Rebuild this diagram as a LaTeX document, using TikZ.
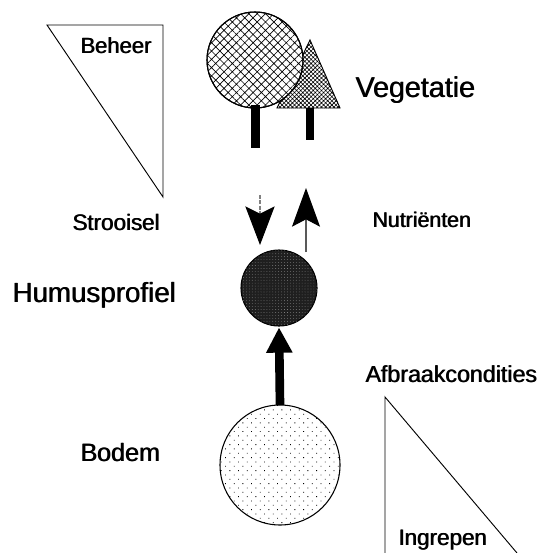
\documentclass[tikz,border=0pt]{standalone}
\usepackage{fontspec}
\newfontfamily\lab{Liberation Sans}
\newcommand\heavytext[1]{\rlap{#1}\kern0.55pt#1}
\usetikzlibrary{patterns.meta,arrows.meta}
\begin{document}
\begin{tikzpicture}[x=0.75pt,y=-0.75pt,
  thin line/.style={line width=0.7pt},
  label text/.style={anchor=base west,inner sep=0pt,font=\lab},
  trunk/.style={fill=black,draw=none},
  round shape/.style={circle,inner sep=0pt,outer sep=0pt,draw,line width=0.8pt}]
\useasboundingbox (0,0) rectangle (542,553);

% Beheer triangle
\coordinate (b1) at (47,25);
\coordinate (b2) at (163,25);
\coordinate (b3) at (163,197);
\draw[thin line] (b1) -- (b2) -- (b3) -- cycle;
\node[label text,font=\lab\fontsize{16.5}{18}\selectfont] (beheer) at (80,53) {\heavytext{Beheer}};

% Conifer tree (triangle) behind the round tree
\coordinate (t1) at (310,40);
\coordinate (t2) at (277,108);
\coordinate (t3) at (340,108);
\fill[white] (t1) -- (t2) -- (t3) -- cycle;
\draw[thin line,pattern={Hatch[angle=45,distance=2.2pt,line width=0.45pt]}] (t1) -- (t2) -- (t3) -- cycle;
\fill[trunk] (306,108) rectangle (314,140);

% Round tree
\node[round shape,minimum size=72pt,fill=white,
  postaction={pattern={Hatch[angle=45,distance=4.4pt,line width=0.5pt]}}] (tree) at (255,60) {};
\draw[line width=0.8pt] (tree.center) circle[radius=48];
\fill[trunk] (251,105) rectangle (260,148);

\node[label text,font=\lab\fontsize{21.5}{24}\selectfont] (veg) at (355,97) {\heavytext{Vegetatie}};

% Humus
\node[round shape,minimum size=57pt,fill=black!88,
  postaction={pattern={Dots[distance=2.2pt,radius=0.25pt]},pattern color=white!70!black}] (humus) at (279,288) {};

% Stroke arrows
\coordinate (dtop) at (260,195);
\coordinate (dtip) at (260,245);
\draw[gray,line width=0.8pt,dash pattern=on 3pt off 1pt,
  -{Stealth[length=29pt,width=22pt,inset=5.5pt,black]}] (dtop) -- (dtip);
\coordinate (ubot) at (306,252);
\coordinate (utip) at (306,188);
\draw[gray!70!black,line width=0.8pt,
  -{Stealth[length=29pt,width=21pt,inset=5.5pt,black]}] (ubot) -- (utip);

\node[label text,font=\lab\fontsize{16.8}{19}\selectfont] (stro) at (72,230) {\heavytext{Strooisel}};
\node[label text,font=\lab\fontsize{16}{18}\selectfont] (nutr) at (372,227) {\heavytext{Nutriënten}};
\node[label text,font=\lab\fontsize{20.8}{23}\selectfont] (humtxt) at (12,302) {\heavytext{Humusprofiel}};

% Bodem
\node[round shape,minimum size=90pt,fill=white,
  postaction={pattern={Dots[angle=45,distance=4.6pt,radius=0.45pt]}}] (bodem) at (280,465) {};
\draw[line width=6.5pt,-{Triangle[length=19pt,width=18.5pt]}] (bodem.north) -- ([yshift=-1pt]humus.south);

\node[label text,font=\lab\fontsize{18.8}{21}\selectfont] (bod) at (80,461) {\heavytext{Bodem}};
\node[label text,font=\lab\fontsize{17.4}{20}\selectfont] (afb) at (365,382) {\heavytext{Afbraakcondities}};

% Ingrepen triangle (open at the bottom)
\coordinate (i1) at (385,397);
\coordinate (i2) at (385,553);
\coordinate (i3) at (517,553);
\draw[thin line] (i2) -- (i1) -- (i3);
\node[label text,font=\lab\fontsize{16.8}{19}\selectfont] (ingr) at (398,545) {\heavytext{Ingrepen}};
\end{tikzpicture}
\end{document}
